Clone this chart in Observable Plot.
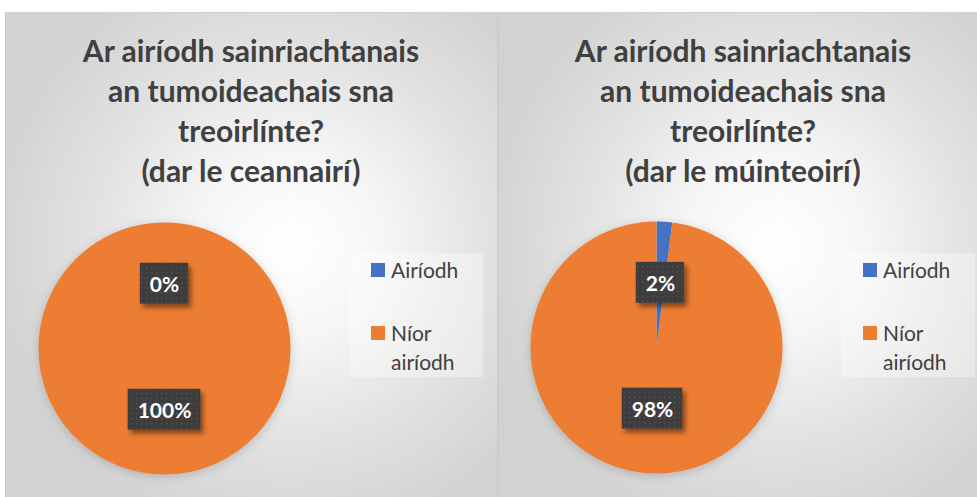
<!DOCTYPE html>
<html>
<head>
<meta charset="utf-8">
<script src="https://cdn.jsdelivr.net/npm/d3@7"></script>
<script src="https://cdn.jsdelivr.net/npm/@observablehq/plot@0.6"></script>
<style>
  html, body { margin: 0; padding: 0; }
  body { width: 977px; height: 497px; background: #ffffff; position: relative; overflow: hidden; font-family: Lato, "Open Sans", sans-serif; }
  .panel { position: absolute; top: 12px; height: 485px; box-sizing: border-box; border-top: 1px solid #cfcfcf;
    background: radial-gradient(ellipse 62% 62% at 58% 48%, #ffffff 0%, #f6f6f6 30%, #e2e2e2 65%, #d2d2d2 100%); }
  .title { position: absolute; font-weight: 700; font-size: 30px; line-height: 40px; color: #404040; text-align: center; white-space: nowrap; transform: translateX(-50%); }
  .legend { position: absolute; width: 134px; height: 124px; background: rgba(255,255,255,0.35); }
  .item { position: absolute; font-size: 21px; line-height: 29px; color: #404040; }
  .sw { position: absolute; width: 14px; height: 14px; }
  .pie { position: absolute; }
  .pie svg { overflow: visible; background: transparent; }
</style>
</head>
<body>
<script>
// ---- data ----
const categories = ["Airíodh", "Níor airíodh"];
const legendLines = [["Airíodh"], ["Níor", "airíodh"]];
const colors = ["#4472C4", "#ED7D31"];
const leadersValues = [0, 100];
const teachersValues = [2, 98];
const leadersTitle = ["Ar airíodh sainriachtanais", "an tumoideachais sna", "treoirlínte?", "(dar le ceannairí)"];
const teachersTitle = ["Ar airíodh sainriachtanais", "an tumoideachais sna", "treoirlínte?", "(dar le múinteoirí)"];

// ---- layout ----
const panels = [
  {left: 5, width: 492, title: leadersTitle, titleX: 251, values: leadersValues, cx: 164, cy: 348, legendX: 349, swX: 371},
  {left: 497, width: 480, title: teachersTitle, titleX: 743, values: teachersValues, cx: 656, cy: 347, legendX: 841, swX: 863}
];
const R = 126, M = 6;
const size = 2 * R + 2 * M;

panels.forEach((p, pi) => {
  const panel = document.createElement("div");
  panel.className = "panel";
  panel.style.left = p.left + "px";
  panel.style.width = p.width + "px";
  if (pi === 1) panel.style.borderLeft = "2px solid #cdcdcd";
  else panel.style.borderLeft = "1px solid #c8c8c8";
  document.body.appendChild(panel);

  const t = document.createElement("div");
  t.className = "title";
  t.style.left = p.titleX + "px";
  t.style.top = "30px";
  t.innerHTML = p.title.join("<br>");
  document.body.appendChild(t);

  // legend
  const lg = document.createElement("div");
  lg.className = "legend";
  lg.style.left = p.legendX + "px";
  lg.style.top = "253px";
  document.body.appendChild(lg);
  const swY = [263, 326];
  const txtY = [255, 318];
  categories.forEach((c, i) => {
    const sw = document.createElement("div");
    sw.className = "sw";
    sw.style.left = p.swX + "px";
    sw.style.top = swY[i] + "px";
    sw.style.background = colors[i];
    document.body.appendChild(sw);
    const it = document.createElement("div");
    it.className = "item";
    it.style.left = (p.swX + 20) + "px";
    it.style.top = txtY[i] + "px";
    it.innerHTML = legendLines[i].join("<br>");
    document.body.appendChild(it);
  });

  // pie wedges from data
  const arcs = d3.pie().sort(null)(p.values);
  const pts = [];
  const labels = [];
  arcs.forEach((a, i) => {
    const cat = categories[i];
    pts.push({cat, x: 0, y: 0});
    const n = Math.max(2, Math.ceil((a.endAngle - a.startAngle) / (2 * Math.PI) * 720));
    for (let k = 0; k <= n; k++) {
      const ang = a.startAngle + (a.endAngle - a.startAngle) * k / n;
      pts.push({cat, x: Math.sin(ang), y: Math.cos(ang)});
    }
    const mid = (a.startAngle + a.endAngle) / 2;
    labels.push({cat, x: 0.5 * Math.sin(mid), y: 0.5 * Math.cos(mid), text: Math.round(p.values[i] / d3.sum(p.values) * 100) + "%"});
  });

  const chart = Plot.plot({
    width: size, height: size,
    margin: M,
    x: {axis: null, domain: [-1, 1]},
    y: {axis: null, domain: [-1, 1]},
    color: {domain: categories, range: colors},
    marks: [
      Plot.line(pts, {x: "x", y: "y", z: "cat", fill: "cat", stroke: "none", curve: "linear"}),
      Plot.text(labels, {x: "x", y: "y", text: "text", fill: "white", fontSize: 21, fontWeight: "bold", fontFamily: "Lato, sans-serif"})
    ]
  });
  const wrap = document.createElement("div");
  wrap.className = "pie";
  wrap.style.left = (p.cx - size / 2) + "px";
  wrap.style.top = (p.cy - size / 2) + "px";
  wrap.appendChild(chart);
  document.body.appendChild(wrap);

  // defs: dot pattern and shadow
  const ns = "http://www.w3.org/2000/svg";
  const defs = document.createElementNS(ns, "defs");
  defs.innerHTML = `
    <pattern id="dots${pi}" width="5" height="5" patternUnits="userSpaceOnUse">
      <rect width="5" height="5" fill="#3d3d3d"></rect>
      <rect x="2" y="2" width="1.3" height="1.3" fill="#555555"></rect>
    </pattern>
    <filter id="sh${pi}" x="-30%" y="-30%" width="170%" height="180%">
      <feDropShadow dx="3" dy="4" stdDeviation="2.5" flood-color="#000" flood-opacity="0.45"></feDropShadow>
    </filter>
    <filter id="pieSh${pi}" x="-10%" y="-10%" width="120%" height="120%">
      <feDropShadow dx="0" dy="2" stdDeviation="5" flood-color="#000" flood-opacity="0.18"></feDropShadow>
    </filter>`;
  chart.insertBefore(defs, chart.firstChild);
  const lineG = chart.querySelector('g[aria-label="line"]');
  if (lineG) lineG.setAttribute("filter", `url(#pieSh${pi})`);

  // label boxes behind texts
  const textG = chart.querySelector('g[aria-label="text"]');
  if (textG) {
    const boxG = document.createElementNS(ns, "g");
    textG.parentNode.insertBefore(boxG, textG);
    textG.querySelectorAll("text").forEach(tx => {
      const b = tx.getBBox();
      const ctm = tx.getAttribute("transform");
      const r = document.createElementNS(ns, "rect");
      const cy = b.y + b.height / 2;
      r.setAttribute("x", b.x - 9.5);
      r.setAttribute("y", cy - 20.5);
      r.setAttribute("width", b.width + 19);
      r.setAttribute("height", 41);
      r.setAttribute("fill", `url(#dots${pi})`);
      r.setAttribute("filter", `url(#sh${pi})`);
      if (ctm) r.setAttribute("transform", ctm);
      boxG.appendChild(r);
    });
  }
});
</script>
</body>
</html>
